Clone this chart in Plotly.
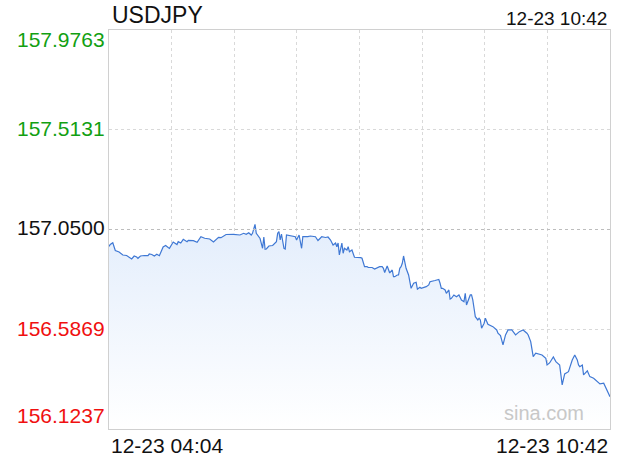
import plotly.graph_objects as go

title = "USDJPY"
time_start_label = "12-23 04:04"
time_end_label = "12-23 10:42"
total_minutes = 398

y_ticks = [157.9763, 157.5131, 157.0500, 156.5869, 156.1237]
y_tick_text = ["157.9763", "157.5131", "157.0500", "156.5869", "156.1237"]
y_tick_colors = ["#12a012", "#12a012", "#111111", "#f01010", "#f01010"]

minutes = [0, 1, 3, 4, 5, 8, 11, 14, 18, 20, 22, 23, 25, 28, 31, 32, 34, 36, 38, 39,
           40, 43, 45, 47, 48, 51, 54, 55, 57, 59, 62, 63, 67, 70, 72, 73, 76, 79, 80, 83,
           85, 87, 89, 93, 99, 101, 104, 107, 109, 111, 113, 114, 115, 116, 117, 120, 121, 122, 123, 124,
           125, 127, 130, 133, 134, 135, 136, 137, 139, 140, 141, 144, 148, 149, 151, 153, 154, 158, 160, 164,
           166, 168, 169, 172, 174, 176, 178, 180, 181, 182, 183, 185, 186, 187, 189, 190, 191, 193, 194, 195,
           200, 201, 203, 205, 206, 209, 211, 215, 217, 218, 219, 221, 223, 225, 226, 227, 229, 230, 231, 232,
           233, 234, 236, 238, 239, 240, 242, 244, 245, 247, 248, 251, 252, 254, 255, 259, 262, 263, 264, 265,
           267, 268, 270, 271, 272, 274, 276, 278, 279, 280, 282, 283, 284, 285, 286, 287, 288, 289, 290, 291,
           293, 294, 295, 296, 298, 299, 301, 305, 308, 309, 311, 313, 315, 317, 320, 323, 326, 329, 332, 333,
           335, 336, 337, 339, 341, 344, 347, 348, 350, 353, 355, 357, 358, 360, 362, 365, 368, 370, 372, 373,
           374, 376, 377, 380, 382, 385, 388, 390, 393, 396, 398]

prices = [156.9711, 156.9804, 156.9887, 156.9734, 156.9525, 156.9456, 156.9317, 156.9293, 156.9131, 156.9270,
          156.9224, 156.9163, 156.9270, 156.9293, 156.9284, 156.9363, 156.9340, 156.9270, 156.9349, 156.9317,
          156.9284, 156.9688, 156.9757, 156.9665, 156.9627, 156.9920, 156.9804, 156.9934, 156.9873, 157.0045,
          156.9934, 156.9999, 156.9980, 156.9906, 157.0092, 157.0166, 157.0092, 157.0045, 157.0059, 156.9920,
          157.0013, 157.0138, 157.0119, 157.0268, 157.0277, 157.0277, 157.0245, 157.0324, 157.0277, 157.0351,
          157.0245, 157.0324, 157.0556, 157.0741, 157.0324, 157.0082, 156.9860, 156.9627, 157.0152, 156.9581,
          156.9595, 156.9734, 156.9757, 156.9934, 157.0324, 157.0407, 157.0013, 157.0291, 156.9627, 156.9595,
          157.0245, 157.0198, 157.0166, 157.0013, 157.0245, 156.9627, 157.0175, 157.0166, 157.0198, 157.0166,
          156.9989, 157.0106, 157.0166, 157.0129, 157.0152, 157.0013, 156.9781, 156.9873, 156.9702, 156.9873,
          156.9317, 156.9873, 156.9395, 156.9627, 156.9549, 156.9702, 156.9470, 156.9549, 156.9317, 156.9210,
          156.9191, 156.9163, 156.8774, 156.8774, 156.8736, 156.8736, 156.8667, 156.8774, 156.8774, 156.8699,
          156.8504, 156.8806, 156.8481, 156.8620, 156.8309, 156.8309, 156.8388, 156.8388, 156.8699, 156.8774,
          156.8931, 156.9270, 156.8699, 156.8388, 156.8077, 156.7771, 156.8003, 156.8050, 156.7725, 156.7818,
          156.7771, 156.7818, 156.7845, 156.7924, 156.8077, 156.8133, 156.8179, 156.8003, 156.7771, 156.7771,
          156.7692, 156.7539, 156.7692, 156.7275, 156.7307, 156.7460, 156.7381, 156.7460, 156.7307, 156.7228,
          156.7149, 156.7539, 156.6996, 156.7149, 156.7307, 156.7460, 156.7460, 156.7228, 156.6843, 156.6453,
          156.6300, 156.6379, 156.6300, 156.5915, 156.6147, 156.6379, 156.6100, 156.5989, 156.5836, 156.5683,
          156.5571, 156.5140, 156.5604, 156.5836, 156.5836, 156.5604, 156.5757, 156.5836, 156.5683, 156.5604,
          156.5293, 156.4908, 156.4597, 156.4754, 156.4722, 156.4676, 156.4522, 156.4211, 156.4304, 156.4583,
          156.4365, 156.4290, 156.4211, 156.3283, 156.3794, 156.3900, 156.4443, 156.4676, 156.4443, 156.4211,
          156.4133, 156.4211, 156.3747, 156.3933, 156.3668, 156.3594, 156.3436, 156.3330, 156.3362, 156.2935,
          156.2740]

FONT = "Liberation Sans, Arial, Helvetica, sans-serif"
y_min, y_max = y_ticks[-1], y_ticks[0]
x_grid = [total_minutes * i / 8 for i in range(9)]

fig = go.Figure()
fig.add_trace(go.Scatter(
    x=minutes, y=prices, mode="lines",
    line=dict(color="#3f78d4", width=1.2),
    fill="tozeroy",
    fillgradient=dict(type="vertical", start=y_min, stop=157.05,
                      colorscale=[[0, "rgba(255,255,255,1)"], [1, "rgba(228,238,252,1)"]]),
    hoverinfo="skip", showlegend=False,
))

fig.add_shape(type="line", xref="paper", x0=0, x1=1, yref="y", y0=157.05, y1=157.05,
              line=dict(color="#bdbdbd", width=1, dash="dot"), layer="above")

annotations = [
    dict(text=title, xref="paper", yref="paper", x=0, y=1, xanchor="left", yanchor="middle",
         xshift=1, yshift=15, showarrow=False, font=dict(family=FONT, size=23, color="#111")),
    dict(text=time_end_label, xref="paper", yref="paper", x=1, y=1, xanchor="right", yanchor="middle",
         xshift=-1, yshift=12, showarrow=False, font=dict(family=FONT, size=19, color="#111")),
    dict(text=time_start_label, xref="paper", yref="paper", x=0, y=0, xanchor="left", yanchor="middle",
         xshift=0, yshift=-16, showarrow=False, font=dict(family=FONT, size=21, color="#111")),
    dict(text=time_end_label, xref="paper", yref="paper", x=1, y=0, xanchor="right", yanchor="middle",
         xshift=0, yshift=-16, showarrow=False, font=dict(family=FONT, size=21, color="#111")),
    dict(text="sina.com", xref="paper", yref="paper", x=1, y=0, xanchor="right", yanchor="middle",
         xshift=-24, yshift=16, showarrow=False, font=dict(family=FONT, size=20, color="#c8c8c8")),
]
y_shifts = [-9, 1, 2, 1, 14]
for v, t, c, s in zip(y_ticks, y_tick_text, y_tick_colors, y_shifts):
    annotations.append(dict(text=t, xref="paper", yref="y", x=0, y=v, xanchor="right", yanchor="middle",
                            xshift=-2, yshift=s, showarrow=False, font=dict(family=FONT, size=21, color=c)))

fig.update_layout(
    width=620, height=460,
    margin=dict(l=109, r=10, t=30, b=31),
    paper_bgcolor="white", plot_bgcolor="white",
    annotations=annotations,
    xaxis=dict(range=[0, total_minutes], tickvals=x_grid, showticklabels=False, ticks="",
               showgrid=True, gridcolor="#d9d9d9", griddash="dot", gridwidth=1,
               zeroline=False, showline=True, linecolor="#d0d0d0", linewidth=1, mirror=True),
    yaxis=dict(range=[y_min, y_max], tickvals=y_ticks[1:4], showticklabels=False, ticks="",
               showgrid=True, gridcolor="#d9d9d9", griddash="dot", gridwidth=1,
               zeroline=False, showline=True, linecolor="#d0d0d0", linewidth=1, mirror=True),
)

fig.write_html("out.html", config={"displayModeBar": False},
               post_script="document.body.style.margin='0px';document.body.style.overflow='hidden';")
